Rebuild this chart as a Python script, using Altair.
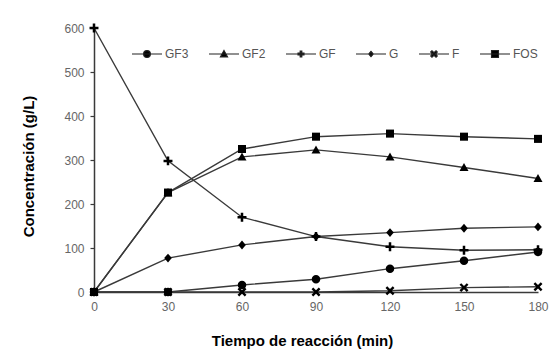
import altair as alt
import pandas as pd

# ---- data ----
time_min = [0, 30, 60, 90, 120, 150, 180]
series_names = ["GF3", "GF2", "GF", "G", "F", "FOS"]
gf3 = [0, 0, 16, 29, 53, 71, 91]
gf2 = [0, 226, 307, 323, 307, 283, 258]
gf = [600, 298, 170, 126, 103, 95, 96]
g = [0, 77, 107, 126, 135, 145, 148]
f = [0, 0, 0, 0, 3, 10, 12]
fos = [0, 226, 325, 353, 360, 353, 348]
y_ticks = [0, 100, 200, 300, 400, 500, 600]

rows = []
for name, vals in zip(series_names, [gf3, gf2, gf, g, f, fos]):
    for t, v in zip(time_min, vals):
        rows.append({"t": t, "v": v, "s": name})
df = pd.DataFrame(rows)

# ---- marker shapes (unit paths) ----
def poly(pts, k=1.0):
    return "M" + "L".join(f"{x*k:.3f},{y*k:.3f}" for x, y in pts) + "Z"

def circ(k=1.0):
    return f"M{-k:.3f},0A{k:.3f},{k:.3f} 0 1,0 {k:.3f},0A{k:.3f},{k:.3f} 0 1,0 {-k:.3f},0Z"

w = 0.28
plus_pts = [(-1, -w), (-w, -w), (-w, -1), (w, -1), (w, -w), (1, -w), (1, w), (w, w), (w, 1), (-w, 1), (-w, w), (-1, w)]
x_pts = [(-1, -0.62), (-0.62, -1), (0, -0.38), (0.62, -1), (1, -0.62), (0.38, 0),
         (1, 0.62), (0.62, 1), (0, 0.38), (-0.62, 1), (-1, 0.62), (-0.38, 0)]
tri_pts = [(0, -1), (1, 0.8), (-1, 0.8)]
dia_pts = [(0, -1), (0.85, 0), (0, 1), (-0.85, 0)]
sq_pts = [(-0.9, -0.9), (0.9, -0.9), (0.9, 0.9), (-0.9, 0.9)]

def marker(name, k):
    return {
        "GF3": circ(0.95 * k),
        "GF2": poly(tri_pts, k),
        "GF": poly(plus_pts, k),
        "G": poly(dia_pts, k),
        "F": poly(x_pts, k),
        "FOS": poly(sq_pts, k),
    }[name]

point_shapes = [marker(n, 1.0) for n in series_names]
legend_scale = {"GF3": 0.24, "GF2": 0.24, "GF": 0.2, "G": 0.18, "F": 0.22, "FOS": 0.26}
legend_shapes = ["M-1,0L1,0" + marker(n, legend_scale[n]) for n in series_names]

FONT = "Liberation Sans"
LINE_COL = "#3a3a3a"

x_enc = alt.X(
    "t:Q",
    scale=alt.Scale(domain=[0, 180], nice=False, zero=False),
    axis=alt.Axis(
        values=time_min, grid=False, ticks=False, labelPadding=9, labelFlush=False,
        labelColor="#666666", labelFontSize=12, labelFont=FONT,
        domainColor=LINE_COL, domainWidth=1.5,
        title="Tiempo de reacción (min)", titleFont=FONT, titleFontSize=15,
        titleFontWeight="bold", titleColor="black",
        titleX=208, titleY=53, titleBaseline="alphabetic", titleAlign="center",
    ),
)
y_enc = alt.Y(
    "v:Q",
    scale=alt.Scale(domain=[0, 600], nice=False),
    axis=alt.Axis(
        values=y_ticks, grid=False, tickSize=4, tickColor=LINE_COL, tickWidth=1.2,
        labelPadding=6, labelFlush=False, labelColor="#666666", labelFontSize=12, labelFont=FONT,
        domainColor=LINE_COL, domainWidth=1.5,
        title="Concentración (g/L)", titleFont=FONT, titleFontSize=15,
        titleFontWeight="bold", titleColor="black",
        titleX=-66, titleY=138, titleBaseline="middle", titleAlign="center", titleAngle=-90,
    ),
)

base = alt.Chart(df)

lines = base.mark_line(color=LINE_COL, strokeWidth=1.4).encode(
    x=x_enc, y=y_enc, detail="s:N"
)

points = base.mark_point(filled=True, color="black", size=80, opacity=1).encode(
    x=x_enc, y=y_enc,
    shape=alt.Shape("s:N", scale=alt.Scale(domain=series_names, range=point_shapes), legend=None),
)

legend_layer = base.mark_point(
    filled=True, fill="black", stroke="#222222", strokeWidth=1.1, size=900, opacity=0
).encode(
    x=x_enc, y=y_enc,
    shape=alt.Shape(
        "s:N",
        scale=alt.Scale(domain=series_names, range=legend_shapes),
        legend=alt.Legend(
            title=None, orient="none", direction="horizontal", columns=6,
            legendX=37, legendY=10, padding=0,
            symbolSize=900, symbolOpacity=1, symbolStrokeWidth=1.1,
            labelFont=FONT, labelFontSize=12, labelColor="#555555",
            labelOffset=2, columnPadding=17,
        ),
    ),
)

chart = (
    alt.layer(lines, points, legend_layer)
    .resolve_scale(shape="independent")
    .properties(
        width=444, height=264,
        padding={"left": 94, "top": 28, "right": 21, "bottom": 70},
        autosize="none",
        background="white",
    )
    .configure_view(stroke=None)
)

chart.save("out.html", embed_options={"renderer": "svg", "actions": False})
